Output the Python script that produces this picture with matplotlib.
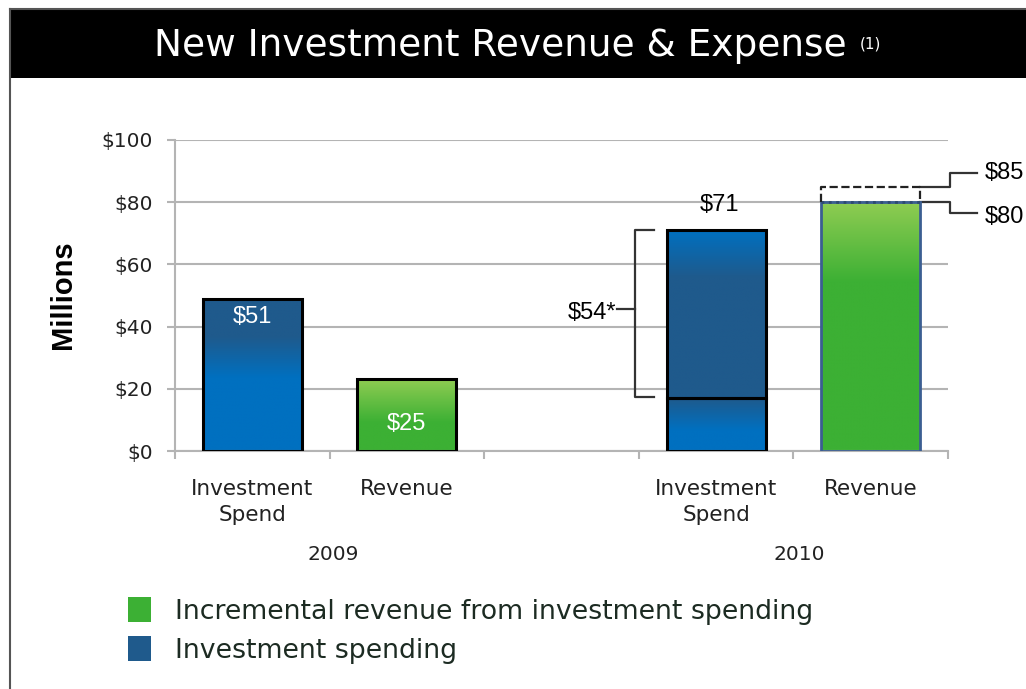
# New Investment Revenue & Expense - recreated slide chart
import numpy as np
import matplotlib.pyplot as plt
from matplotlib.patches import Rectangle
from matplotlib.colors import LinearSegmentedColormap, to_rgb

# data
categories = ['Investment\nSpend', 'Revenue', '', 'Investment\nSpend', 'Revenue']
years = ['2009', '2010']
x_pos = [0, 1, 3, 4]
values = [49, 23, 71, 80]            # bar heights as drawn
value_labels = ['$51', '$25', '$71', '$80']
spend_2010_base = 17                 # split inside 2010 spend bar
rev_2010_high = 85                   # dashed upside for 2010 revenue
bracket_label = '$54*'
high_label = '$85'
legend_labels = ['Incremental revenue from investment spending', 'Investment spending']

# colores
blue = '#0070C0'
dblue = '#1F5A8C'
green = '#3CB034'
lgreen = '#8FCC52'
grid = '#B4B4B4'

W, H = 1026, 689
fig = plt.figure(figsize=(W/100, H/100), dpi=100)
fig.patch.set_facecolor('white')

# slide frame + title bar
fig.add_artist(Rectangle((10/W, 1 - 78/H), 1, 68/H, transform=fig.transFigure,
                         facecolor='black', edgecolor='none'))
fig.add_artist(plt.Line2D([10/W, 1], [1 - 9/H, 1 - 9/H], transform=fig.transFigure,
                          color='#555555', lw=1.5))
fig.add_artist(plt.Line2D([10/W, 10/W], [0, 1 - 9/H], transform=fig.transFigure,
                          color='#555555', lw=1.5))
fig.text(500/W, 1 - 46/H, 'New Investment Revenue & Expense', color='white',
         fontsize=27, ha='center', va='center')
fig.text(860/W, 1 - 44/H, '(1)', color='white', fontsize=11, ha='left', va='center')

ax = fig.add_axes([175/W, 1 - 451/H, 773/W, 311/H])
bw = 0.64


def grad_bar(x, y0, y1, stops):
    cmap = LinearSegmentedColormap.from_list('g', [(f, to_rgb(c)) for f, c in stops])
    img = np.linspace(0, 1, 256).reshape(-1, 1)
    ax.imshow(img, cmap=cmap, extent=[x - bw/2, x + bw/2, y0, y1], origin='lower',
              aspect='auto', zorder=2, interpolation='bilinear')


grad_bar(x_pos[0], 0, values[0], [(0, blue), (0.48, blue), (0.75, dblue), (1, dblue)])
grad_bar(x_pos[1], 0, values[1], [(0, green), (0.4, green), (1, lgreen)])
grad_bar(x_pos[2], 0, spend_2010_base, [(0, blue), (0.4, blue), (1, dblue)])
grad_bar(x_pos[2], spend_2010_base, values[2], [(0, dblue), (0.72, dblue), (1, blue)])
grad_bar(x_pos[3], 0, values[3], [(0, green), (0.68, green), (1, lgreen)])

# outlines
ax.bar(x_pos[:3], [values[0], values[1], spend_2010_base], width=bw, fill=False,
       edgecolor='black', linewidth=2.2, zorder=3)
ax.bar(x_pos[2], values[2] - spend_2010_base, bottom=spend_2010_base, width=bw,
       fill=False, edgecolor='black', linewidth=2.2, zorder=3)
ax.bar(x_pos[3], values[3], width=bw, fill=False, edgecolor='#3B5E92',
       linewidth=2.0, zorder=3)
ax.plot([x_pos[3] - bw/2, x_pos[3] + bw/2], [values[3], values[3]], ':',
        color='#2E4A70', lw=2.0, zorder=4)
xl, xr = x_pos[3] - bw/2, x_pos[3] + bw/2
ax.plot([xl, xl, xr, xr], [values[3], rev_2010_high, rev_2010_high, values[3]],
        '--', color='#222222', lw=1.6, zorder=4, clip_on=False)

# value labels
lab_kw = dict(fontsize=17, ha='center', va='center', family='Liberation Sans', zorder=5)
ax.text(x_pos[0], values[0] - 6, value_labels[0], color='white', **lab_kw)
ax.text(x_pos[1], 8.7, value_labels[1], color='white', **lab_kw)
ax.text(x_pos[2] + 0.02, values[2] + 8, value_labels[2], color='black', **lab_kw)

# bracket for 2010 spend
bx, bt = 2.475, 2.60
bmid = (values[2] + spend_2010_base) / 2 + 1.5
ax.plot([bt, bx, bx, bt], [values[2], values[2], spend_2010_base + 0.5, spend_2010_base + 0.5],
        color='#333333', lw=1.6, zorder=4)
ax.plot([2.36, bx], [bmid, bmid], color='#333333', lw=1.6, zorder=4)
ax.text(2.355, bmid - 1.2, bracket_label, color='black', fontsize=17, ha='right',
        va='center', family='Liberation Sans')

# connectors for 2010 revenue range
ax.plot([xr, 4.51, 4.51, 4.69], [rev_2010_high, rev_2010_high, 89.5, 89.5],
        color='#333333', lw=1.6, clip_on=False)
ax.plot([xr, 4.51, 4.51, 4.69], [values[3], values[3], 76.5, 76.5],
        color='#333333', lw=1.6, clip_on=False)
ax.text(4.74, 89.5, high_label, color='black', fontsize=17, ha='left',
        va='center', family='Liberation Sans', clip_on=False)
ax.text(4.74, 75.2, value_labels[3], color='black', fontsize=17, ha='left',
        va='center', family='Liberation Sans', clip_on=False)

# axes
ax.set_xlim(-0.5, 4.5)
ax.set_ylim(0, 100)
ax.set_yticks(np.arange(0, 101, 20))
ax.set_yticklabels(['$%d' % v for v in range(0, 101, 20)], fontsize=14.5, color='#222222')
ax.yaxis.grid(True, color=grid, lw=1.5, zorder=0)
ax.set_axisbelow(True)
ax.set_xticks(range(5))
ax.set_xticklabels(categories, fontsize=15.5, color='#222222', linespacing=1.4)
ax.set_xticks(np.arange(-0.5, 4.6, 1), minor=True)
ax.tick_params(axis='x', which='major', length=0, pad=20)
ax.tick_params(axis='x', which='minor', length=6, width=1.5, color=grid, direction='out')
ax.tick_params(axis='y', length=6, width=1.5, color=grid, pad=10)
for s in ['top', 'right']:
    ax.spines[s].set_visible(False)
for s in ['left', 'bottom']:
    ax.spines[s].set_color(grid)
    ax.spines[s].set_linewidth(1.5)

ax.text(0.52, -33.4, years[0], fontsize=14.5, ha='center', va='center', color='#222222')
ax.text(3.54, -33.4, years[1], fontsize=14.5, ha='center', va='center', color='#222222')

fig.text(63/W, 1 - 295/H, 'Millions', rotation=90, fontsize=21, fontweight='bold',
         ha='center', va='center', family='Liberation Sans')

# legend
for i, (lab, c) in enumerate(zip(legend_labels, [green, dblue])):
    yc = 610 + i * 39
    fig.add_artist(Rectangle((128/W, 1 - (yc + 12)/H), 23/W, 25/H,
                             transform=fig.transFigure, facecolor=c, edgecolor='none'))
    fig.text(175/W, 1 - (yc + 2)/H, lab, fontsize=19.3, color='#1C2B22',
             ha='left', va='center')

plt.savefig('out.png', dpi=100)
